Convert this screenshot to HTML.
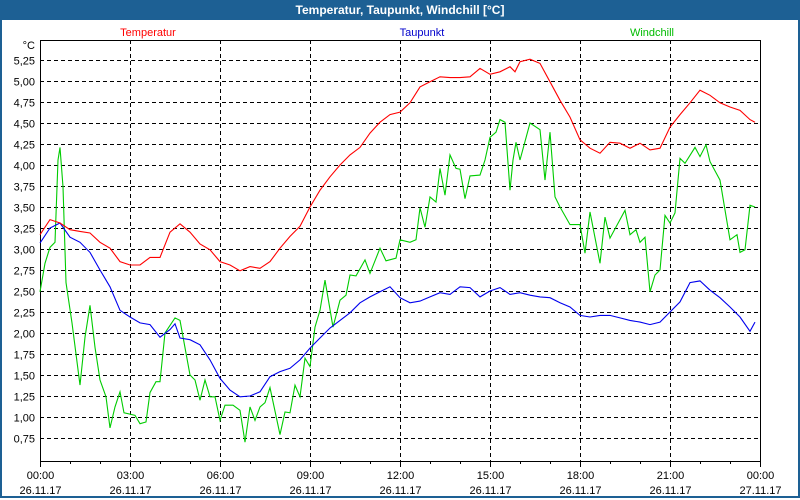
<!DOCTYPE html>
<html><head><meta charset="utf-8"><style>
body{margin:0;width:800px;height:500px;overflow:hidden;background:#fff;font-family:"Liberation Sans","DejaVu Sans",sans-serif}
#frame{position:absolute;left:0;top:0;width:796px;height:496px;border:2px solid #1d6094;border-top:none;background:#fff}
#title{position:absolute;left:0;top:0;width:800px;height:20px;background:#1d6094;color:#fff;font-weight:bold;font-size:12px;line-height:20px;text-align:center}
</style></head><body>
<div id="frame"></div>
<div id="title">Temperatur, Taupunkt, Windchill [°C]</div>
<svg id="chart" width="800" height="500" style="position:absolute;left:0;top:0"></svg>
<script>
const yTicks=[0.75,1.00,1.25,1.50,1.75,2.00,2.25,2.50,2.75,3.00,3.25,3.50,3.75,4.00,4.25,4.50,4.75,5.00,5.25];
const xTickTimes=["00:00","03:00","06:00","09:00","12:00","15:00","18:00","21:00","00:00"];
const xTickDates=["26.11.17","26.11.17","26.11.17","26.11.17","26.11.17","26.11.17","26.11.17","26.11.17","27.11.17"];
const tempMin=[0,20,40,60,80,100,120,140,160,180,200,220,240,260,280,300,320,340,360,380,400,420,440,460,480,500,520,540,560,580,600,620,640,660,680,700,720,740,760,780,800,820,840,860,880,900,920,940,950,960,980,1000,1020,1040,1060,1080,1100,1120,1140,1160,1180,1200,1220,1240,1260,1280,1300,1320,1340,1360,1380,1400,1420,1430];
const tempVal=[3.17,3.35,3.31,3.23,3.21,3.19,3.08,3.01,2.85,2.81,2.81,2.9,2.9,3.2,3.3,3.2,3.06,2.99,2.85,2.81,2.74,2.79,2.77,2.85,3.01,3.15,3.27,3.5,3.7,3.86,4.0,4.12,4.21,4.38,4.51,4.6,4.63,4.74,4.93,4.99,5.05,5.04,5.04,5.05,5.15,5.08,5.11,5.17,5.11,5.23,5.26,5.21,4.99,4.77,4.57,4.3,4.2,4.14,4.27,4.26,4.2,4.26,4.18,4.2,4.45,4.6,4.74,4.89,4.83,4.74,4.69,4.65,4.54,4.51];
const dewMin=[0,20,40,60,80,100,120,140,160,180,200,220,240,260,270,280,300,320,340,360,380,400,420,440,460,480,500,520,540,560,580,600,620,640,660,680,700,720,740,760,780,800,820,840,860,880,900,920,940,960,980,1000,1020,1040,1060,1080,1100,1120,1140,1160,1180,1200,1220,1240,1260,1280,1300,1320,1340,1360,1380,1400,1420,1430];
const dewVal=[3.07,3.25,3.31,3.14,3.08,2.96,2.75,2.55,2.27,2.19,2.12,2.1,1.95,2.04,2.11,1.94,1.92,1.86,1.68,1.46,1.32,1.24,1.25,1.3,1.48,1.54,1.58,1.68,1.82,1.94,2.06,2.15,2.24,2.36,2.43,2.49,2.55,2.42,2.36,2.38,2.43,2.48,2.46,2.55,2.54,2.43,2.5,2.54,2.46,2.48,2.45,2.43,2.42,2.36,2.31,2.21,2.19,2.21,2.21,2.18,2.15,2.13,2.1,2.13,2.25,2.37,2.6,2.62,2.51,2.42,2.31,2.19,2.02,2.13];
const windMin=[0,10,20,30,36,40,46,52,64,80,90,100,110,120,132,140,150,160,168,190,200,212,220,232,240,250,270,280,300,310,320,330,340,350,360,370,386,400,410,420,430,440,450,460,480,490,500,510,520,530,540,550,560,570,586,600,612,620,632,650,660,680,692,712,720,740,752,760,770,780,792,800,810,820,832,840,850,860,880,890,900,912,920,930,940,946,952,960,980,1000,1010,1020,1030,1040,1060,1080,1090,1100,1120,1130,1140,1170,1180,1192,1200,1210,1220,1230,1240,1250,1260,1270,1280,1290,1310,1320,1332,1340,1360,1380,1394,1400,1410,1420,1430];
const windVal=[2.49,2.83,3.02,3.08,4.06,4.21,3.74,2.6,2.12,1.38,1.95,2.33,1.83,1.44,1.24,0.87,1.12,1.3,1.05,1.02,0.92,0.94,1.29,1.42,1.42,2.0,2.18,2.15,1.5,1.44,1.2,1.44,1.24,1.24,0.96,1.14,1.14,1.08,0.7,1.12,0.96,1.12,1.17,1.35,0.79,1.06,1.05,1.38,1.24,1.7,1.6,2.07,2.27,2.63,2.07,2.39,2.45,2.69,2.68,2.87,2.71,3.01,2.86,2.89,3.11,3.08,3.11,3.49,3.26,3.62,3.56,3.96,3.64,4.12,3.96,3.95,3.6,3.87,3.88,4.06,4.33,4.39,4.54,4.51,3.7,4.06,4.27,4.06,4.5,4.42,3.82,4.39,3.62,3.5,3.29,3.29,2.95,3.44,2.83,3.38,3.13,3.46,3.17,3.23,3.08,3.14,2.49,2.69,2.75,3.4,3.31,3.43,4.08,4.02,4.21,4.1,4.24,4.04,3.82,3.11,3.17,2.96,2.99,3.52,3.5];
</script>
<script>
const svg=document.getElementById('chart');
const NS='http://www.w3.org/2000/svg';
const L=40,R=760,T=40,B=461;
function xs(min){return L+min/1440*(R-L);}
function ys(v){return 60+(5.25-v)*84;}
function mk(tag,attrs){const e=document.createElementNS(NS,tag);for(const k in attrs)e.setAttribute(k,attrs[k]);svg.appendChild(e);return e;}
yTicks.forEach(v=>{
  const y=Math.round(ys(v))+0.5;
  const g=mk('line',{x1:L,x2:R,y1:y,y2:y,stroke:'#000','stroke-dasharray':'4,3','stroke-width':1});
  
  
  const t=mk('text',{x:35,y:y+4,'text-anchor':'end','font-size':11,fill:'#000'});
  t.textContent=v.toFixed(2).replace('.',',');
  
  
});
const u=mk('text',{x:35,y:49,'text-anchor':'end','font-size':11,fill:'#000'});u.textContent='°C';


xTickTimes.forEach((lab,i)=>{
  const x=Math.round(xs(i*180))+0.5;
  if(i>0&&i<8){const g=mk('line',{x1:x,x2:x,y1:T,y2:B,stroke:'#000','stroke-dasharray':'4,3'});
    
    }
  mk('line',{x1:x,x2:x,y1:B,y2:B+6,stroke:'#000'});
  const t=mk('text',{x:x,y:479,'text-anchor':'middle','font-size':11,fill:'#000'});t.textContent=lab;
  
  
  const d=mk('text',{x:x,y:494,'text-anchor':'middle','font-size':11,fill:'#000'});d.textContent=xTickDates[i];
  
  
});
for(let h=1;h<24;h++){if(h%3){const x=Math.round(xs(h*60))+0.5;mk('line',{x1:x,x2:x,y1:B,y2:B+3,stroke:'#000'});}}
const ax=mk('path',{d:`M${L+0.5},${T}V${B+0.5}H${R+0.5}V${T+0.5}H${L}`,fill:'none',stroke:'#000'});


function line(mins,vals,col,name){
  const n=Math.min(mins.length,vals.length);
  let d='';for(let i=0;i<n;i++)d+=(i?'L':'M')+xs(mins[i]).toFixed(1)+','+ys(vals[i]).toFixed(1);
  const p=mk('path',{d:d,fill:'none',stroke:col,'stroke-width':1.1});
  
  
}
line(windMin,windVal,'#00cc00','windchill-line');
line(dewMin,dewVal,'#0000ee','taupunkt-line');
line(tempMin,tempVal,'#ff0000','temperatur-line');
[['Temperatur','#ff0000',148,'legend-temperatur'],['Taupunkt','#0000cc',422,'legend-taupunkt'],['Windchill','#00bb00',652,'legend-windchill']].forEach(a=>{
  const t=mk('text',{x:a[2],y:36,'text-anchor':'middle','font-size':11,fill:a[1]});t.textContent=a[0];
  
  
});
</script>
</body></html>
